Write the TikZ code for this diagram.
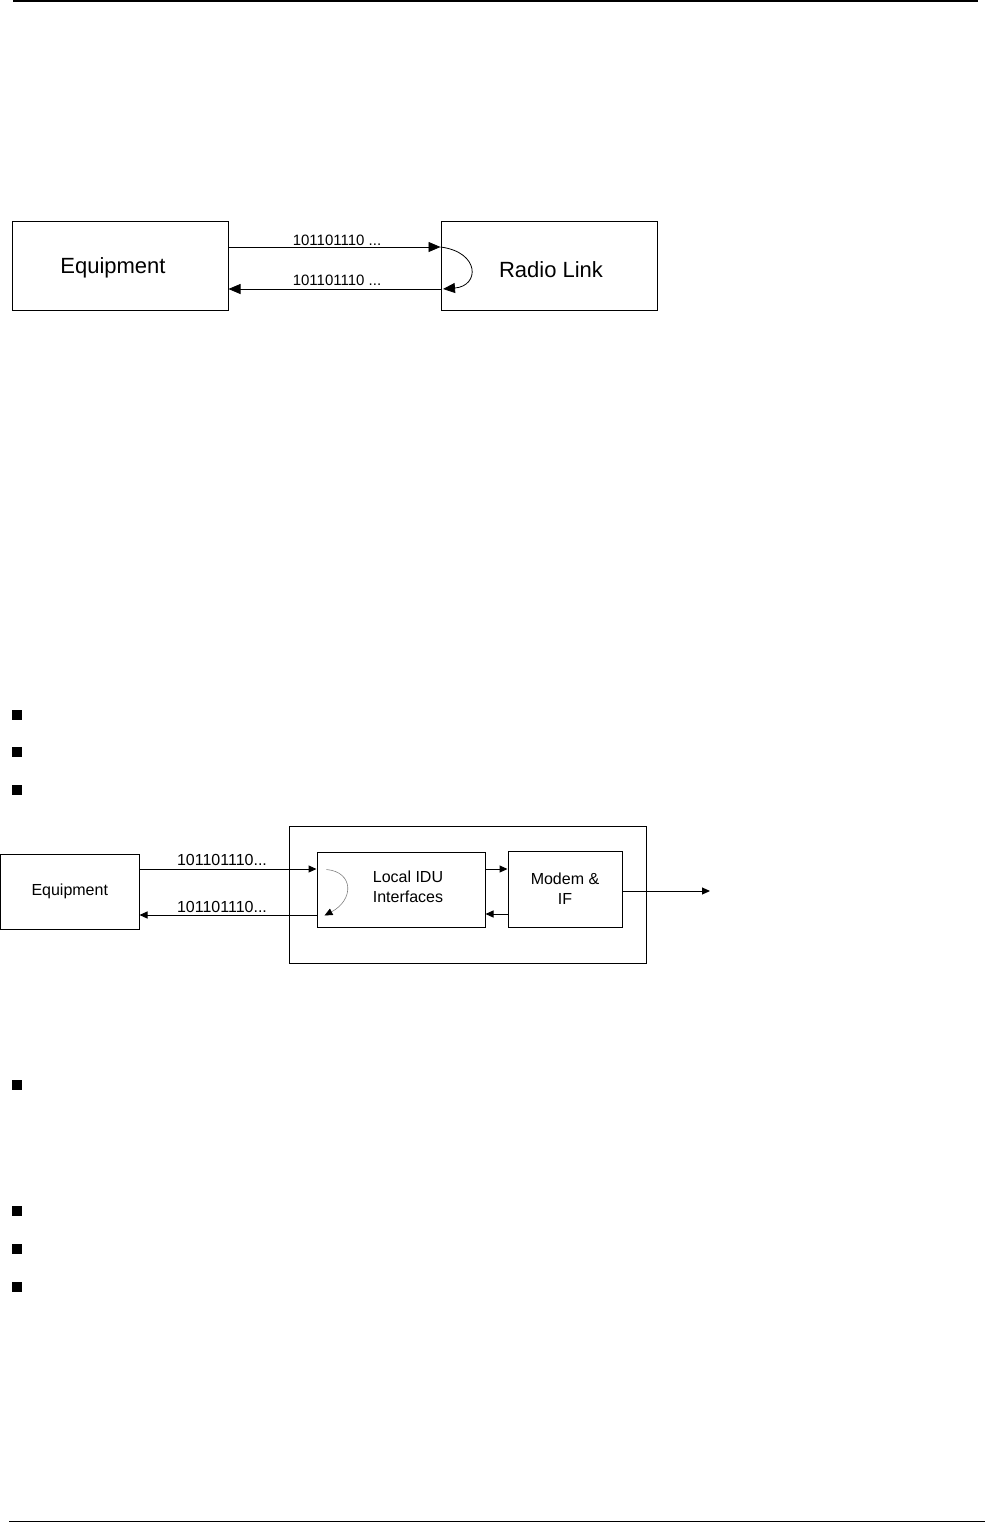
\documentclass[tikz,border=0pt]{standalone}
\usepackage{fontspec}
\setmainfont{Liberation Sans}
\usetikzlibrary{arrows.meta}
\begin{document}
\begin{tikzpicture}[x=1pt,y=-1pt,
  box/.style={draw, line width=1pt, inner sep=0pt, align=center},
  bigtip/.style={-{Triangle[length=12pt,width=10pt]}, line width=0.8pt},
  smalltip/.style={-{Triangle[length=8pt,width=7pt]}, line width=1pt},
  lbl/.style={inner sep=0pt},
  bullet/.style={fill=black, draw=none, minimum size=10pt, inner sep=0pt},
  bigfont/.style={font=\fontsize{22}{26}\selectfont},
  labfont/.style={font=\fontsize{15}{18}\selectfont},
  medfont/.style={font=\fontsize{16}{20}\selectfont}]
\useasboundingbox (0,0) rectangle (993,1523);
% header / footer rules
\coordinate (hl) at (13,1.2);
\coordinate (hr) at (978,1.2);
\draw[line width=2.5pt] (hl) -- (hr);
\coordinate (fl) at (9,1521.5);
\coordinate (fr) at (985,1521.5);
\draw[line width=1pt] (fl) -- (fr);

% ---------- top diagram ----------
\node[box, minimum width=216pt, minimum height=89pt] (eqA) at (120,265.5) {};
\node[box, minimum width=216pt, minimum height=89pt] (rl) at (549,265.5) {};
\node[lbl, bigfont] (eqAt) at (113,267.5) {Equipment};
\node[lbl, bigfont] (rlt) at (551,270) {Radio Link};
\draw[bigtip] (eqA.east |- 0,247) -- (rl.west |- 0,247);
\draw[bigtip] (rl.west |- 0,247) .. controls (480,252) and (480,286) .. (443,289);
\draw[bigtip] (rl.west |- 0,289) -- (eqA.east |- 0,289);
\node[lbl, labfont] (la1) at (337,240) {101101110 ...};
\node[lbl, labfont] (la2) at (337,280) {101101110 ...};

% ---------- bullets ----------
\node[bullet] (b1) at (17,715) {};
\node[bullet] (b2) at (17,752) {};
\node[bullet] (b3) at (17,790) {};
\node[bullet] (b4) at (17,1085) {};
\node[bullet] (b5) at (17,1211) {};
\node[bullet] (b6) at (17,1249) {};
\node[bullet] (b7) at (17,1287) {};

% ---------- bottom diagram ----------
\node[box, minimum width=357pt, minimum height=137pt] (outer) at (467.5,894.5) {};
\node[box, medfont, minimum width=138.5pt, minimum height=75pt] (eqB) at (69.75,891.5) {Equipment};
\node[box, minimum width=168pt, minimum height=75pt] (idu) at (401,889.5) {};
\node[lbl, medfont, align=left] (idut) at (408,887) {Local IDU\\Interfaces};
\node[box, medfont, minimum width=114pt, minimum height=76pt] (modem) at (565,889) {Modem \&\\IF};
\coordinate (out) at (710,891);

\draw[smalltip] (eqB.east |- 0,869) -- (idu.west |- 0,869);
\draw[smalltip] (idu.west |- 0,915) -- (eqB.east |- 0,915);
\node[lbl, medfont] (lb1) at (222,860) {101101110...};
\node[lbl, medfont] (lb2) at (222,907) {101101110...};
\draw[smalltip] (idu.east |- 0,869) -- (modem.west |- 0,869);
\draw[smalltip] (modem.west |- 0,914) -- (idu.east |- 0,914);
\draw[smalltip] (modem.east |- out) -- (out);
\draw[-{Triangle[length=8pt,width=7pt,color=black]}, gray, line width=0.6pt]
  ([shift={(10,18)}]idu.north west) .. controls (354,872) and (354,900) .. ([shift={(8,-12)}]idu.south west);
\end{tikzpicture}
\end{document}
